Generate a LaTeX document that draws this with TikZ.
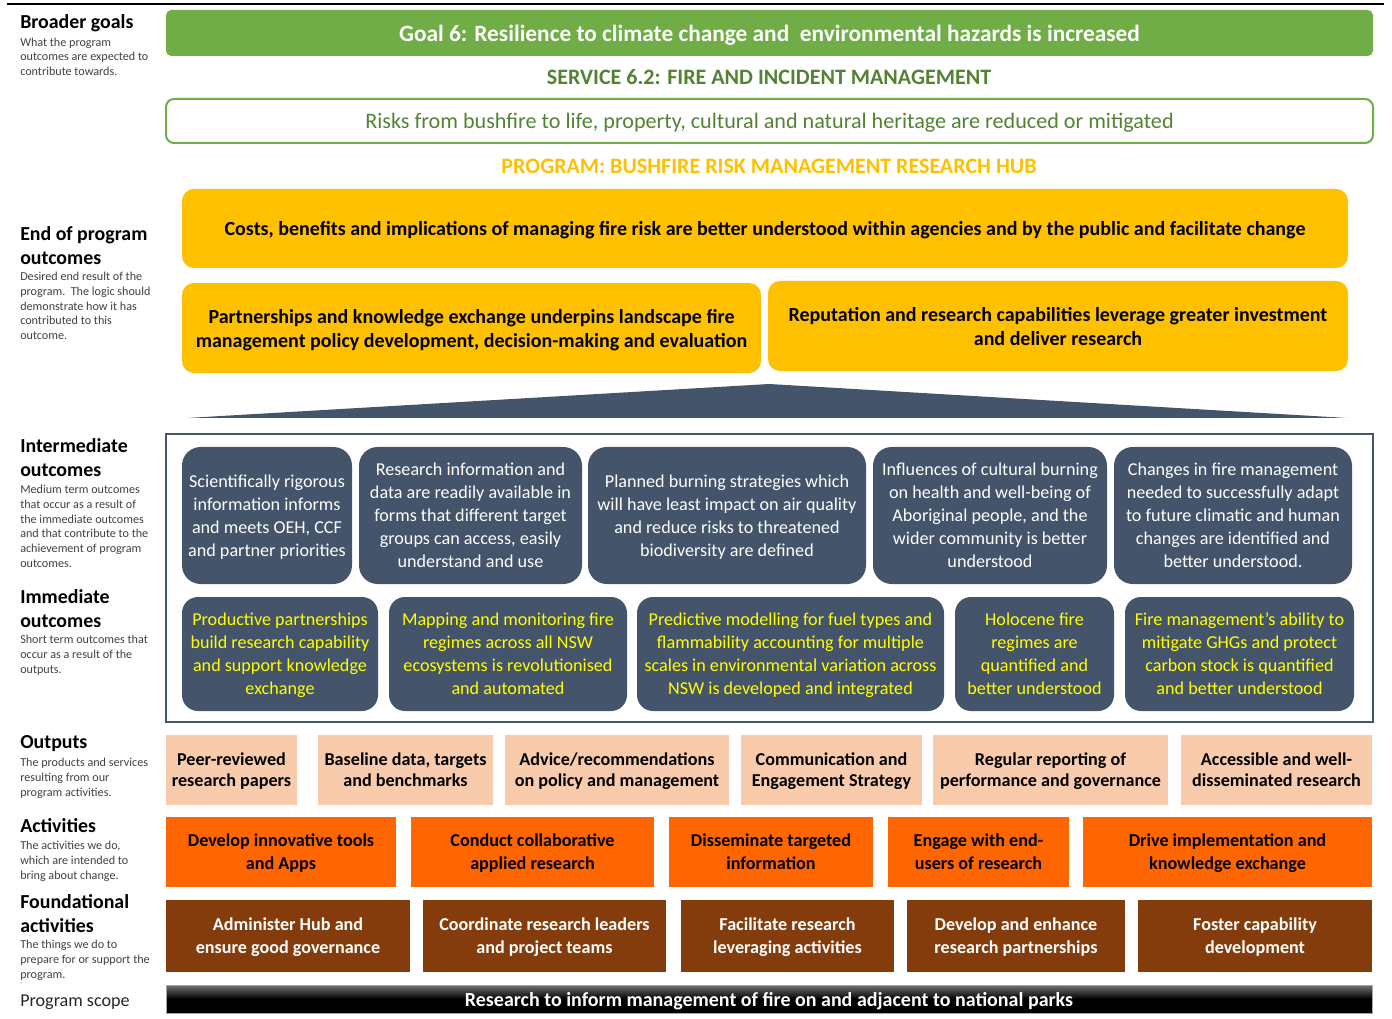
\documentclass[tikz,border=0pt]{standalone}
\usepackage{fontspec}
\setmainfont{Carlito}
\definecolor{goalgreen}{HTML}{70AD47}
\definecolor{dkgreen}{HTML}{548235}
\definecolor{amber}{HTML}{FFC000}
\definecolor{slate}{HTML}{44546A}
\definecolor{peach}{HTML}{F8CBAD}
\definecolor{orangeact}{HTML}{FF6600}
\definecolor{brownfd}{HTML}{843C0C}
\definecolor{brightyel}{HTML}{FFFF00}
\definecolor{descgray}{HTML}{404040}
\newcommand\fs[2]{\fontsize{#1}{#2}\selectfont}
\newcommand\mybox[7]{\node[#6, minimum width={(#4-#2)*0.75pt}, minimum height={(#5-#3)*0.75pt}] (#1) at ({(#2+#4)/2},{(#3+#5)/2}) {#7};}
\tikzset{
  base/.style={inner sep=1pt, outer sep=0pt, align=center, text depth=0pt},
  goalbox/.style={base, fill=goalgreen, rounded corners=4pt, text=white, font=\bfseries\fs{17.5}{20}},
  riskbox/.style={base, draw=goalgreen, line width=1.5pt, fill=white, rounded corners=6pt, text=dkgreen, font=\fs{16.6}{19}},
  endbox/.style={base, fill=amber, rounded corners=9pt, font=\bfseries\fs{15}{18}},
  interbox/.style={base, fill=slate, rounded corners=14pt, text=white, font=\fs{13.6}{17.25}},
  immbox/.style={base, fill=slate, rounded corners=12pt, text=brightyel, font=\fs{13.6}{17.25}},
  outbox/.style={base, fill=peach, font=\bfseries\fs{13.6}{15.75}},
  actbox/.style={base, fill=orangeact, font=\bfseries\fs{13.6}{17.25}},
  fndbox/.style={base, fill=brownfd, text=white, font=\bfseries\fs{13.6}{17.25}},
  scopebox/.style={base, draw=black!35, line width=0.6pt, top color=black!55, bottom color=black, middle color=black, text=white, font=\bfseries\fs{15}{16}},
  lblhead/.style={anchor=north west, inner sep=0pt, align=left, font=\bfseries\fs{14.9}{18}},
  lbldesc/.style={anchor=north west, inner sep=0pt, align=left, text=descgray, font=\fs{9.1}{11}},
  heading/.style={inner sep=0pt, font=\bfseries\fs{16.5}{18}}
}
\begin{document}
\begin{tikzpicture}[x=0.75pt,y=-0.75pt]
\useasboundingbox (0,0) rectangle (1392,1019);
% top rule
\coordinate (ruleL) at (7,4);
\coordinate (ruleR) at (1384,4);
\draw[line width=1.5pt] (ruleL) -- (ruleR);

% ---- left labels
\node[lblhead] (hBroad) at (20,14) {Broader goals};
\node[lbldesc] (dBroad) at (20,37.5) {What the program\\outcomes are expected to\\contribute towards.};
\node[lblhead] (hEnd) at (20,226) {End of program\\outcomes};
\node[lbldesc] (dEnd) at (20,272) {Desired end result of the\\program.\ \ The logic should\\demonstrate how it has\\contributed to this\\outcome.};
\node[lblhead] (hInt) at (20,438) {Intermediate\\outcomes};
\node[lbldesc] (dInt) at (20,485) {Medium term outcomes\\that occur as a result of\\the immediate outcomes\\and that contribute to the\\achievement of program\\outcomes.};
\node[lblhead] (hImm) at (20,589) {Immediate\\outcomes};
\node[lbldesc] (dImm) at (20,635) {Short term outcomes that\\occur as a result of the\\outputs.};
\node[lblhead] (hOut) at (20,735.5) {Outputs};
\node[lbldesc] (dOut) at (20,758) {The products and services\\resulting from our\\program activities.};
\node[lblhead] (hAct) at (20,818) {Activities};
\node[lbldesc] (dAct) at (20,841) {The activities we do,\\which are intended to\\bring about change.};
\node[lblhead] (hFnd) at (20,894) {Foundational\\activities};
\node[lbldesc] (dFnd) at (20,940) {The things we do to\\prepare for or support the\\program.};
\node[lbldesc, font=\fs{5}{6}] (dDot) at (20,982) {.};
\node[anchor=north west, inner sep=0pt, font=\fs{13.6}{15}, text=black!85] (hScope) at (20,995) {Program scope};

% ---- top goal section
\mybox{goal}{166}{10}{1373}{56}{goalbox}{Goal 6: Resilience to climate change and\ \ environmental hazards is increased}
\node[heading, text=dkgreen] (service) at (769,77) {SERVICE 6.2: FIRE AND INCIDENT MANAGEMENT};
\mybox{risk}{166}{99}{1373}{143}{riskbox}{Risks from bushfire to life, property, cultural and natural heritage are reduced or mitigated}
\node[heading, text=amber] (program) at (769,166) {PROGRAM: BUSHFIRE RISK MANAGEMENT RESEARCH HUB};

% ---- end of program outcomes
\mybox{eop1}{182}{189}{1348}{268}{endbox}{Costs, benefits and implications of managing fire risk are better understood within agencies and by the public and facilitate change}
\mybox{eop2}{182}{283}{761}{373}{endbox}{Partnerships\ and knowledge exchange underpins landscape fire\\management policy development, decision-making and evaluation}
\mybox{eop3}{768}{281}{1348}{371}{endbox}{Reputation and research capabilities leverage greater investment\\and deliver research}

% ---- triangle
\coordinate (triL) at (187,418);
\coordinate (triT) at (769,384);
\coordinate (triR) at (1347,418);
\fill[slate] (triL) -- (triT) -- (triR) -- cycle;

% ---- frame
\mybox{frame}{166}{434}{1373}{722}{base, draw=slate, line width=2pt, fill=white}{}

% ---- intermediate outcomes
\mybox{int1}{182}{447}{352}{584}{interbox}{Scientifically rigorous\\information informs\\and meets OEH, CCF\\and partner priorities}
\mybox{int2}{359}{447}{582}{584}{interbox}{Research information and\\data are readily available in\\forms that different target\\groups can access, easily\\understand and use}
\mybox{int3}{588}{447}{866}{584}{interbox}{Planned burning strategies which\\will have least impact on air quality\\and reduce risks to threatened\\biodiversity are defined}
\mybox{int4}{873}{447}{1107}{584}{interbox}{Influences of cultural burning\\on health and well-being of\\Aboriginal people, and the\\wider community is better\\understood}
\mybox{int5}{1114}{447}{1352}{584}{interbox}{Changes in fire management\\needed to successfully adapt\\to future climatic and human\\changes are identified\ and\\better understood.}

% ---- immediate outcomes
\mybox{imm1}{182}{597}{378}{711}{immbox}{Productive partnerships\\build research capability\\and support knowledge\\exchange}
\mybox{imm2}{389}{597}{627}{711}{immbox}{Mapping and monitoring fire\\regimes across all NSW\\ecosystems is revolutionised\\and automated}
\mybox{imm3}{637}{597}{944}{711}{immbox}{Predictive modelling for fuel types and\\flammability accounting for multiple\\scales in environmental variation across\\NSW is developed and integrated}
\mybox{imm4}{955}{597}{1114}{711}{immbox}{Holocene fire\\regimes are\\quantified and\\better understood}
\mybox{imm5}{1125}{597}{1354}{711}{immbox}{Fire management’s ability to\\mitigate GHGs and protect\\carbon stock is quantified\\and better understood}

% ---- outputs
\mybox{out1}{166}{735}{297}{805}{outbox}{Peer-reviewed\\research papers}
\mybox{out2}{318}{735}{493}{805}{outbox}{Baseline data, targets\\and benchmarks}
\mybox{out3}{505}{735}{729}{805}{outbox}{Advice/recommendations\\on policy and management}
\mybox{out4}{741}{735}{922}{805}{outbox}{Communication and\\Engagement Strategy}
\mybox{out5}{933}{735}{1168}{805}{outbox}{Regular reporting of\\performance and governance}
\mybox{out6}{1181}{735}{1372}{805}{outbox}{Accessible and well-\\disseminated research}

% ---- activities
\mybox{act1}{166}{817}{396}{887}{actbox}{Develop innovative tools\\and Apps}
\mybox{act2}{411}{817}{654}{887}{actbox}{Conduct collaborative\\applied research}
\mybox{act3}{669}{817}{873}{887}{actbox}{Disseminate targeted\\information}
\mybox{act4}{888}{817}{1069}{887}{actbox}{Engage with end-\\users of research}
\mybox{act5}{1083}{817}{1372}{887}{actbox}{Drive implementation and\\knowledge exchange}

% ---- foundational activities
\mybox{fnd1}{166}{900}{410}{972}{fndbox}{Administer Hub and\\ensure good governance}
\mybox{fnd2}{423}{900}{666}{972}{fndbox}{Coordinate research leaders\\and project teams}
\mybox{fnd3}{681}{900}{894}{972}{fndbox}{Facilitate research\\leveraging activities}
\mybox{fnd4}{907}{900}{1125}{972}{fndbox}{Develop and enhance\\research partnerships}
\mybox{fnd5}{1138}{900}{1372}{972}{fndbox}{Foster capability\\development}

% ---- scope bar
\mybox{scope}{166}{985}{1372}{1013}{scopebox}{Research to inform management of fire on and adjacent to national parks}
\end{tikzpicture}
\end{document}
